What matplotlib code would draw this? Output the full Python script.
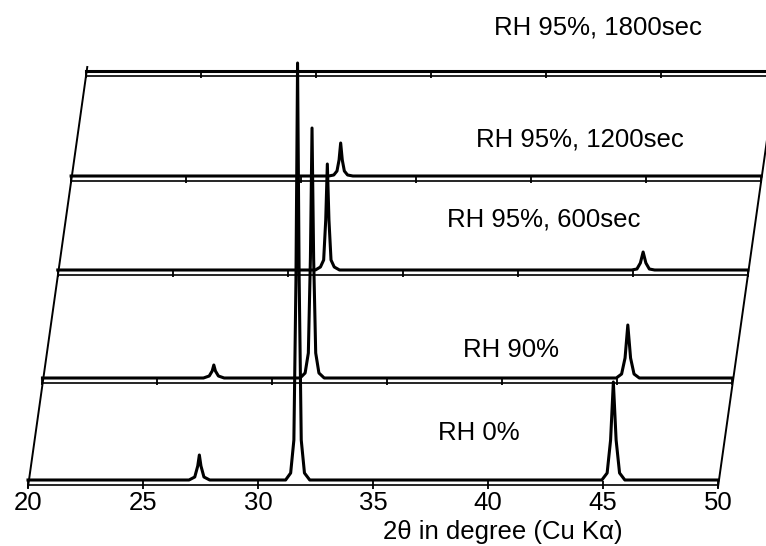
import matplotlib
matplotlib.use('Agg')
import numpy as np
import matplotlib.pyplot as plt

plt.rcParams['font.family'] = ['Liberation Sans', 'DejaVu Sans']

# XRD patterns (intensity in arbitrary units)
two_theta = [20.0, 27.0, 27.25, 27.38, 27.45, 27.52, 27.65, 27.9,
             31.2, 31.42, 31.56, 31.65, 31.72, 31.79, 31.88, 32.02, 32.25,
             44.95, 45.18, 45.33, 45.45, 45.57, 45.72, 45.95, 50.0]
rh_0 = [0, 0, 3, 14, 25, 14, 3, 0,
        0, 7, 40, 200, 417, 200, 40, 7, 0,
        0, 7, 40, 98, 40, 7, 0, 0]
rh_90 = [0, 0, 2, 7, 13, 7, 2, 0,
         0, 5, 25, 120, 250, 120, 25, 5, 0,
         0, 4, 20, 53, 20, 4, 0, 0]
rh_95_600 = [0, 0, 0, 0, 0, 0, 0, 0,
             0, 3, 10, 50, 106, 50, 10, 3, 0,
             0, 1, 7, 18, 7, 1, 0, 0]
rh_95_1200 = [0, 0, 0, 0, 0, 0, 0, 0,
              0, 1, 5, 16, 33, 16, 5, 1, 0,
              0, 0, 0, 0, 0, 0, 0, 0]
rh_95_1800 = [0, 0, 0, 0, 0, 0, 0, 0,
              0, 0, 0, 0, 0, 0, 0, 0, 0,
              0, 0, 0, 0, 0, 0, 0, 0]

labels = ['RH 0%', 'RH 90%', 'RH 95%, 600sec', 'RH 95%, 1200sec', 'RH 95%, 1800sec']
patterns = [rh_0, rh_90, rh_95_600, rh_95_1200, rh_95_1800]
ticks = [20, 25, 30, 35, 40, 45, 50]

# stacking layout: baseline height of each frame and the slant of the stack
base = [61, 163, 271, 365, 470]
slant = 0.1418 / 23.0   # degrees shifted per unit of height
gap = 5                 # trace sits a little above its frame line
label_pos = [(39.6, 113), (41.0, 196), (42.4, 326), (44.0, 406), (44.8, 519)]


def shift(y):
    return (y - base[0]) * slant


fig = plt.figure(figsize=(7.66, 5.46), dpi=100)
ax = fig.add_axes([0, 0, 1, 1])
ax.set_xlim(20 - 28 / 23.0, 20 + 738 / 23.0)
ax.set_ylim(0, 546)

tt = np.array(two_theta)
for i, (pat, lab) in enumerate(zip(patterns, labels)):
    dx = shift(base[i])
    y0 = base[i]
    ax.plot(tt + dx, np.array(pat) + y0 + gap, color='black', lw=2.2)
    if i > 0:
        ax.plot([20 + dx, 50 + dx], [y0, y0], color='black', lw=1.2)
        ax.plot(np.array(ticks) + dx, [y0 + gap / 2] * len(ticks), ls='none',
                marker='|', ms=6, mew=1.3, color='black')
    ax.text(label_pos[i][0], label_pos[i][1], lab, ha='center', va='center',
            fontsize=18.5)

# slanted side edges of the stack
top = base[-1] + 9
ax.plot([20, 20 + shift(top)], [base[0] - 2, top], color='black', lw=1.4)
ax.plot([50, 50 + shift(top)], [base[0] - 2, top], color='black', lw=1.4)

for s in ['top', 'left', 'right']:
    ax.spines[s].set_visible(False)
ax.spines['bottom'].set_position(('data', base[0]))
ax.spines['bottom'].set_bounds(20, 50)
ax.spines['bottom'].set_linewidth(1.2)
ax.set_xticks(ticks)
ax.set_yticks([])
ax.tick_params(axis='x', direction='inout', length=6, width=1.3, pad=1,
               labelsize=18.5)
ax.set_xlabel('2θ in degree (Cu Kα)', fontsize=18.5)
ax.xaxis.set_label_coords(503 / 766, (546 - 520) / 546)
ax.xaxis.label.set_va('top')

fig.savefig('out.png', dpi=100)
